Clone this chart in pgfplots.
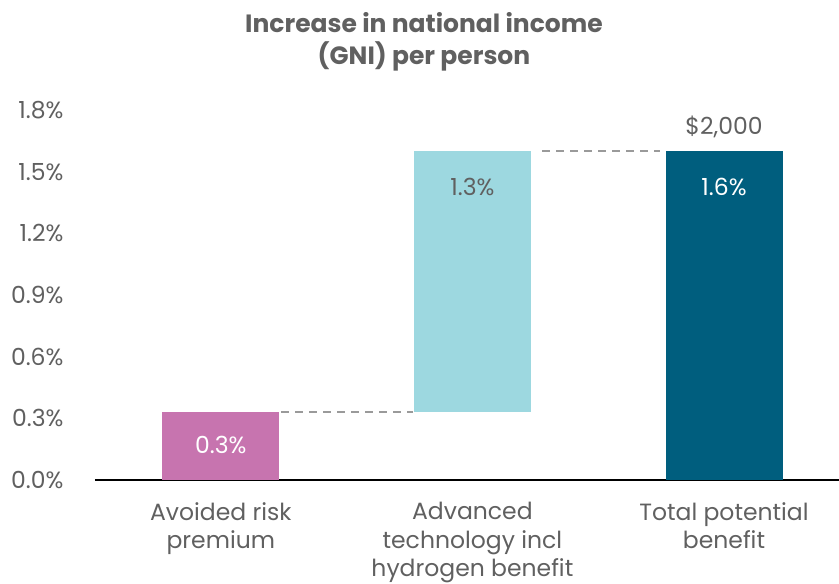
\documentclass[border=0pt]{standalone}
\usepackage{pgfplots}
\pgfplotsset{compat=1.18}
\usepackage{fontspec}
\setmainfont{Poppins}
\definecolor{pinkbar}{HTML}{C774AF}
\definecolor{lightbar}{HTML}{9DD8E0}
\definecolor{tealbar}{HTML}{005E7E}
\definecolor{txt}{HTML}{606060}
\definecolor{dashc}{HTML}{9A9A9A}
\begin{document}
\begin{tikzpicture}
\useasboundingbox (-95pt,-104pt) rectangle (744pt,480pt);
\begin{axis}[at={(0,0)}, anchor=south west, scale only axis,
  width=744pt, height=370pt,
  xmin=-0.5, xmax=2.457, ymin=0, ymax=1.8,
  ybar stacked, bar width=117pt,
  axis x line=bottom, axis y line=left,
  x axis line style={-, black, line width=2pt},
  y axis line style={draw=none},
  major tick length=0pt,
  xtick={0,1,2},
  xticklabels={{Avoided risk\\premium},{Advanced\\technology incl\\hydrogen benefit},{Total potential\\benefit}},
  xticklabel style={align=center, font=\fontsize{23.5}{28.5}\selectfont, text=txt, anchor=north, yshift=-19pt},
  ytick={0,0.3,0.6,0.9,1.2,1.5,1.8},
  yticklabel={\pgfmathprintnumber[fixed,fixed zerofill,precision=1]{\tick}\%},
  /pgf/number format/assume math mode=true,
  yticklabel style={font=\fontsize{23.5}{28}\selectfont, text=txt, anchor=east, xshift=-28pt},
  clip=false,
]
\addplot[fill=none, draw=none] coordinates {(0,0) (1,0.333) (2,0)};
\addplot[fill=pinkbar, draw=none] coordinates {(0,0.333) (1,0) (2,0)};
\addplot[fill=lightbar, draw=none] coordinates {(0,0) (1,1.267) (2,0)};
\addplot[fill=tealbar, draw=none] coordinates {(0,0) (1,0) (2,1.6)};
\end{axis}
\begin{axis}[at={(0,0)}, anchor=south west, scale only axis,
  width=744pt, height=370pt,
  xmin=-0.5, xmax=2.457, ymin=0, ymax=1.8,
  hide axis, clip=false]
\addplot[dashc, line width=2pt, dash pattern=on 8pt off 6pt] coordinates {(0.24,0.333) (0.765,0.333)};
\addplot[dashc, line width=2pt, dash pattern=on 8pt off 6pt] coordinates {(1.277,1.6) (1.746,1.6)};
\node[text=white, font=\fontsize{23.5}{28}\selectfont] at (axis cs:0,0.17) {0.3\%};
\node[text=txt, font=\fontsize{23.5}{28}\selectfont] at (axis cs:1,1.425) {1.3\%};
\node[text=white, font=\fontsize{23.5}{28}\selectfont] at (axis cs:2,1.425) {1.6\%};
\node[text=txt, font=\fontsize{23.5}{28}\selectfont] at (axis cs:2,1.717) {\$2,000};
\end{axis}
\node[align=center, anchor=north, text=txt, font=\bfseries\fontsize{25}{32}\selectfont] at (329pt,471pt) {Increase in national income\\(GNI) per person};
\end{tikzpicture}
\end{document}
